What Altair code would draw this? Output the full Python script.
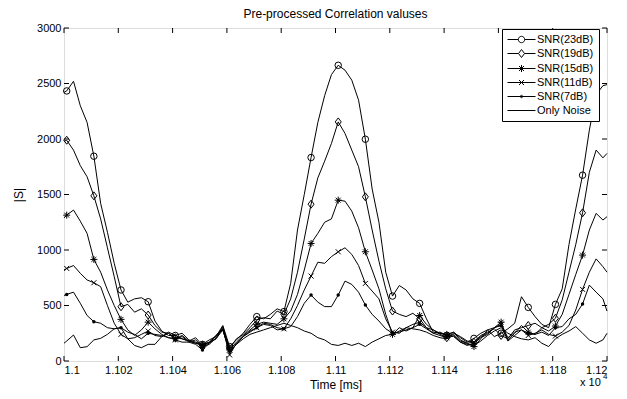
import altair as alt
import pandas as pd

FONT = "Liberation Sans"

# time axis in ms (plotted as value / 10^4)
TIME_MS = [11000,
           11001, 11003.5, 11006, 11008.5, 11011, 11013.5, 11016, 11018.5, 11021, 11023.5,
           11026, 11028.5, 11031, 11033.5, 11036, 11038.5, 11041, 11043.5, 11046, 11048.5,
           11051, 11053.5, 11056, 11058.5, 11061, 11063.5, 11066, 11068.5, 11071, 11073.5,
           11076, 11078.5, 11081, 11083.5, 11086, 11088.5, 11091, 11093.5, 11096, 11098.5,
           11101, 11103.5, 11106, 11108.5, 11111, 11113.5, 11116, 11118.5, 11121, 11123.5,
           11126, 11128.5, 11131, 11133.5, 11136, 11138.5, 11141, 11143.5, 11146, 11148.5,
           11151, 11153.5, 11156, 11158.5, 11161, 11163.5, 11166, 11168.5, 11171, 11173.5,
           11176, 11178.5, 11181, 11183.5, 11186, 11188.5, 11191, 11193.5, 11196, 11198.5,
           11200]

SNR_23 = [2420,
          2433, 2520, 2300, 2150, 1845, 1420, 1160, 880, 640, 530,
          560, 570, 534, 360, 270, 230, 230, 250, 190, 170,
          150, 190, 220, 320, 130, 190, 250, 330, 400, 380,
          420, 470, 445, 700, 1180, 1500, 1833, 2150, 2390, 2580,
          2664, 2620, 2530, 2350, 1998, 1550, 1250, 800, 585, 680,
          640, 560, 519, 380, 260, 250, 230, 260, 210, 170,
          204, 250, 280, 220, 250, 290, 340, 579, 483, 400,
          330, 300, 510, 650, 1050, 1370, 1674, 2080, 2400, 2480,
          2490]
SNR_19 = [1980,
          1989, 1900, 1760, 1660, 1488, 1280, 1020, 760, 489, 510,
          440, 470, 414, 320, 260, 250, 210, 200, 180, 210,
          140, 160, 230, 300, 110, 200, 240, 300, 370, 390,
          380, 450, 420, 560, 800, 1100, 1413, 1650, 1800, 1960,
          2154, 2050, 1900, 1750, 1479, 1180, 900, 650, 450, 420,
          400, 430, 380, 300, 250, 230, 210, 240, 180, 160,
          170, 230, 260, 290, 230, 200, 280, 300, 320, 340,
          300, 330, 385, 550, 800, 1050, 1335, 1700, 1900, 1830,
          1870]
SNR_15 = [1290,
          1314, 1360, 1260, 1150, 915, 800, 640, 500, 375, 280,
          230, 280, 350, 290, 240, 210, 200, 230, 180, 160,
          140, 170, 200, 310, 100, 170, 230, 280, 330, 350,
          340, 330, 380, 450, 600, 820, 1059, 1150, 1250, 1280,
          1449, 1440, 1350, 1200, 984, 820, 650, 420, 240, 300,
          270, 300, 410, 330, 280, 250, 240, 260, 190, 160,
          130, 200, 280, 300, 350, 190, 250, 320, 260, 240,
          300, 270, 315, 420, 600, 780, 954, 1180, 1330, 1270,
          1300]
SNR_11 = [820,
          834, 860, 790, 730, 705, 670, 500, 340, 240, 200,
          210, 240, 270, 230, 220, 250, 190, 170, 170, 190,
          130, 150, 210, 290, 55, 160, 220, 270, 300, 330,
          320, 280, 290, 380, 500, 640, 765, 890, 880, 940,
          984, 1020, 960, 860, 699, 630, 560, 380, 260, 250,
          300, 330, 350, 300, 280, 240, 210, 250, 220, 180,
          170, 220, 250, 300, 330, 210, 260, 280, 230, 250,
          280, 240, 225, 260, 320, 460, 645, 800, 920, 850,
          800]
SNR_7 = [590,
         600, 620, 520, 410, 354, 340, 300, 290, 300, 260,
         240, 200, 250, 240, 230, 210, 200, 220, 170, 150,
         100, 160, 200, 280, 90, 150, 220, 260, 300, 340,
         330, 300, 290, 310, 400, 520, 594, 530, 490, 490,
         594, 720, 690, 620, 504, 420, 360, 290, 250, 260,
         280, 300, 330, 290, 250, 260, 230, 220, 170, 140,
         160, 210, 240, 300, 320, 180, 230, 280, 250, 240,
         260, 230, 300, 310, 380, 420, 513, 684, 620, 560,
         450]
NOISE = [160,
         180, 234, 120, 129, 190, 204, 240, 290, 300, 200,
         140, 120, 150, 150, 220, 260, 230, 200, 180, 160,
         150, 170, 230, 280, 80, 150, 200, 240, 260, 280,
         300, 320, 340, 320, 300, 270, 250, 210, 190, 150,
         140, 160, 140, 160, 130, 170, 200, 230, 240, 270,
         300, 290, 280, 260, 230, 210, 200, 230, 170, 150,
         140, 180, 230, 270, 300, 250, 220, 200, 190, 210,
         160, 130, 200, 240, 270, 310, 250, 190, 160, 190,
         250]

SERIES_NAMES = ["SNR(23dB)", "SNR(19dB)", "SNR(15dB)", "SNR(11dB)", "SNR(7dB)", "Only Noise"]
SERIES_VALUES = [SNR_23, SNR_19, SNR_15, SNR_11, SNR_7, NOISE]

X_TICKS = [1.1, 1.102, 1.104, 1.106, 1.108, 1.11, 1.112, 1.114, 1.116, 1.118, 1.12]
Y_TICKS = [0, 500, 1000, 1500, 2000, 2500, 3000]

W, H = 543, 333

rows = []
for name, vals in zip(SERIES_NAMES, SERIES_VALUES):
    assert len(vals) == len(TIME_MS), name
    for i, (t, v) in enumerate(zip(TIME_MS, vals)):
        is_marker = (11001 <= t <= 11191) and ((t - 11001) % 10 == 0)
        rows.append({"series": name, "x": t / 10000.0, "v": v, "order": i,
                     "marker": bool(is_marker)})
df = pd.DataFrame(rows)

x_scale = alt.Scale(domain=[1.1, 1.12], nice=False, zero=False)
y_scale = alt.Scale(domain=[0, 3000], nice=False, zero=False)
x_axis = alt.Axis(values=X_TICKS, labelExpr="format(datum.value, '.3~f')",
                  title="Time [ms]", ticks=False, tickSize=0, domain=False, grid=False,
                  labelFontSize=11, labelPadding=3, labelFont=FONT, labelColor="black",
                  titleFont=FONT, titleFontSize=12, titleFontWeight="normal",
                  titleColor="black", titlePadding=4)
y_axis = alt.Axis(values=Y_TICKS, format="d", title="|S|", ticks=False, tickSize=0,
                  domain=False, grid=False, labelFontSize=11, labelPadding=3,
                  labelFont=FONT, labelColor="black", titleFont=FONT, titleFontSize=12,
                  titleFontWeight="normal", titleColor="black", titlePadding=11)


def X(field="x"):
    return alt.X(f"{field}:Q", scale=x_scale, axis=x_axis)


def Y(field="v"):
    return alt.Y(f"{field}:Q", scale=y_scale, axis=y_axis)


lines = alt.Chart(df).mark_line(color="black", strokeWidth=1).encode(
    x=X(), y=Y(), detail="series:N", order="order:Q")

MARKERS = {
    "SNR(23dB)": dict(shape="circle", size=42, filled=False),
    "SNR(19dB)": dict(shape="M0,-1L0.75,0L0,1L-0.75,0Z", size=64, filled=False),
    "SNR(15dB)": dict(shape="M0,-1L0,1M-1,0L1,0M-0.7,-0.7L0.7,0.7M-0.7,0.7L0.7,-0.7",
                      size=49, filled=False),
    "SNR(11dB)": dict(shape="M-1,-1L1,1M-1,1L1,-1", size=25, filled=False),
    "SNR(7dB)": dict(shape="circle", size=12, filled=True),
}

marker_layers = []
for name, m in MARKERS.items():
    marker_layers.append(
        alt.Chart(df).transform_filter(
            f"datum.marker && datum.series == '{name}'"
        ).mark_point(shape=m["shape"], size=m["size"], filled=m["filled"],
                     color="black", strokeWidth=1, opacity=1).encode(x=X(), y=Y())
    )

# legend symbols: unit = sqrt(100)/2 = 5 px; line runs +-14 px
LEGEND_PATHS = [
    "M-2.8,0L-0.64,0M0.64,0L2.8,0M0.64,0A0.64,0.64,0,1,1,-0.64,0A0.64,0.64,0,1,1,0.64,0",
    "M-2.8,0L-0.6,0M0.6,0L2.8,0M0,-0.8L0.6,0L0,0.8L-0.6,0Z",
    "M-2.8,0L2.8,0M0,-0.7L0,0.7M-0.5,-0.5L0.5,0.5M-0.5,0.5L0.5,-0.5",
    "M-2.8,0L2.8,0M-0.5,-0.5L0.5,0.5M-0.5,0.5L0.5,-0.5",
    "M-2.8,0L2.8,0M0.24,0A0.24,0.24,0,1,1,-0.24,0A0.24,0.24,0,1,1,0.24,0",
    "M-2.8,0L2.8,0",
]

legend_layer = alt.Chart(df).transform_filter("false").mark_point(
    filled=False, color="black", strokeWidth=1, opacity=1
).encode(
    x=X(), y=Y(),
    shape=alt.Shape("series:N", scale=alt.Scale(domain=SERIES_NAMES, range=LEGEND_PATHS),
                    legend=alt.Legend(orient="none", legendX=438, legendY=1, title=None,
                                      strokeColor="black", fillColor="white", padding=5,
                                      labelFont=FONT, labelFontSize=11, labelColor="black",
                                      labelOffset=10, symbolOffset=9, symbolSize=100,
                                      symbolStrokeWidth=1, symbolStrokeColor="black",
                                      symbolFillColor="transparent", rowPadding=2,
                                      cornerRadius=0))
)

xt = pd.DataFrame({"x": X_TICKS})
yt = pd.DataFrame({"v": Y_TICKS})
TL = 5
ticks = [
    alt.Chart(yt).mark_rule(color="black", strokeWidth=1).encode(
        y=Y(), x=alt.value(0), x2=alt.value(TL)),
    alt.Chart(yt).mark_rule(color="black", strokeWidth=1).encode(
        y=Y(), x=alt.value(W - TL), x2=alt.value(W)),
    alt.Chart(xt).mark_rule(color="black", strokeWidth=1).encode(
        x=X(), y=alt.value(H), y2=alt.value(H - TL)),
    alt.Chart(xt).mark_rule(color="black", strokeWidth=1).encode(
        x=X(), y=alt.value(0), y2=alt.value(TL)),
]

one = pd.DataFrame({"t": ["x 10"]})
exp_text = [
    alt.Chart(one).mark_text(align="left", baseline="middle", font=FONT, fontSize=11,
                             color="black").encode(
        x=alt.value(516), y=alt.value(355), text=alt.value("x 10")),
    alt.Chart(one).mark_text(align="left", baseline="middle", font=FONT, fontSize=8,
                             color="black").encode(
        x=alt.value(539), y=alt.value(349), text=alt.value("4")),
]

chart = alt.layer(lines, *marker_layers, legend_layer, *ticks, *exp_text).properties(
    width=W, height=H,
    title=alt.Title("Pre-processed Correlation valuses", font=FONT, fontSize=12,
                    fontWeight="normal", color="black", offset=9, dy=8,
                    anchor="middle", frame="group"),
    autosize=alt.AutoSizeParams(type="none"),
    padding={"left": 56, "top": 20, "right": 12, "bottom": 38},
).configure_view(stroke="black", strokeWidth=1).configure(background="white")

chart.save("out.html", embed_options={"renderer": "svg", "actions": False})
